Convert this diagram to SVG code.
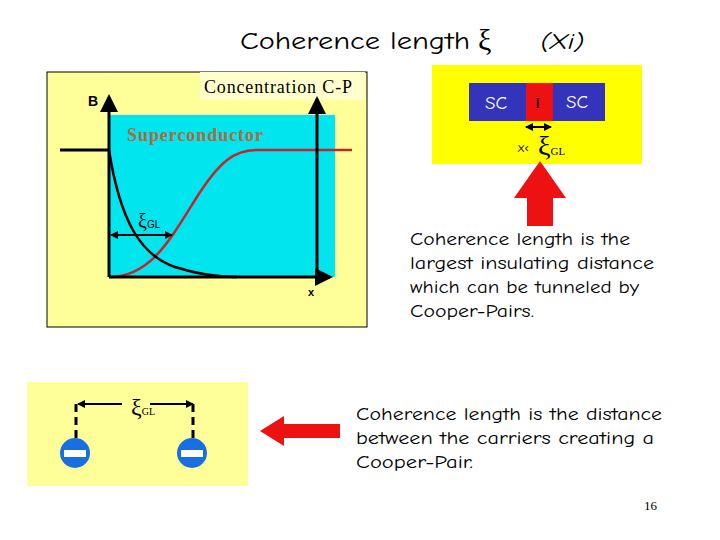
<svg xmlns="http://www.w3.org/2000/svg" width="720" height="540" viewBox="0 0 720 540">
<style>
.cs{font-family:"Comic Neue","DejaVu Sans",sans-serif}
.ser{font-family:"Liberation Serif",serif}
.ax{stroke:#000;stroke-width:3;fill:none}
</style>
<defs>
<marker id="ah" markerWidth="6" markerHeight="6" refX="5" refY="3" orient="auto" markerUnits="strokeWidth"><path d="M0,0L6,3L0,6z" fill="#000"/></marker>
<marker id="sa" markerWidth="8" markerHeight="8" refX="7" refY="4" orient="auto-start-reverse" markerUnits="userSpaceOnUse"><path d="M0,0L8,4L0,8z" fill="#000"/></marker>
</defs>
<rect width="720" height="540" fill="#fff"/>
<text x="240" y="49" class="cs" font-size="25" textLength="230" lengthAdjust="spacingAndGlyphs">Coherence length</text>
<text x="478" y="50" class="ser" font-size="30">ξ</text>
<text x="540" y="49" class="cs" font-size="23" font-style="italic" textLength="44" lengthAdjust="spacingAndGlyphs">(Xi)</text>

<g id="graph">
<rect x="47" y="72" width="320" height="255" fill="#ffff99" stroke="#000" stroke-width="1"/>
<rect x="200" y="72" width="165" height="28" fill="#ffffcc"/>
<text x="204" y="93" class="ser" font-size="18" textLength="148">Concentration C-P</text>
<rect x="109" y="115" width="226" height="162" fill="#00e5ee"/>
<text x="88" y="106" font-family="Liberation Sans,sans-serif" font-weight="bold" font-size="14">B</text>
<text x="127" y="141" class="ser" font-size="18" font-weight="bold" fill="#b06a40" textLength="136">Superconductor</text>
<line x1="60" y1="150" x2="109" y2="150" class="ax"/>
<path d="M109,277 C150,277 170,240 195,200 C220,160 235,150 257,150 L352,150" stroke="#c0272d" stroke-width="2.5" fill="none"/>
<path d="M109,150 C120,220 140,255 175,267 C200,275 220,277 237,277" stroke="#000" stroke-width="2.5" fill="none"/>
<line x1="109" y1="277" x2="109" y2="97" class="ax" marker-end="url(#ah)"/>
<line x1="317" y1="277" x2="317" y2="99" class="ax" marker-end="url(#ah)"/>
<line x1="109" y1="277" x2="330" y2="277" class="ax" marker-end="url(#ah)"/>
<line x1="111" y1="235" x2="172" y2="235" stroke="#000" stroke-width="2" marker-start="url(#sa)" marker-end="url(#sa)"/>
<text x="138" y="228" class="ser" font-size="20">ξ<tspan font-size="10" font-family="Liberation Sans,sans-serif">GL</tspan></text>
<text x="308" y="296" font-family="Liberation Sans,sans-serif" font-weight="bold" font-size="11">x</text>
</g>

<g id="junction">
<rect x="432" y="65" width="210" height="99" fill="#ffff00"/>
<rect x="469" y="83" width="136" height="38" fill="#3333bb"/>
<rect x="526" y="83" width="27" height="38" fill="#ee1111"/>
<text x="485" y="109" class="cs" font-size="19" fill="#fff">SC</text>
<text x="535" y="108" class="ser" font-size="15" fill="#000">I</text>
<text x="566" y="108" class="cs" font-size="19" fill="#fff">SC</text>
<line x1="526" y1="127" x2="551" y2="127" stroke="#000" stroke-width="2" marker-start="url(#sa)" marker-end="url(#sa)"/>
<text x="518" y="152" class="cs" font-size="13">x‹</text>
<text x="538" y="155" class="ser" font-size="28">ξ<tspan font-size="11">GL</tspan></text>
</g>

<g id="pair">
<rect x="27" y="382" width="221" height="104" fill="#ffff99"/>
<line x1="76" y1="404" x2="76" y2="440" stroke="#000" stroke-width="3" stroke-dasharray="8,5"/>
<line x1="193" y1="404" x2="193" y2="440" stroke="#000" stroke-width="3" stroke-dasharray="8,5"/>
<line x1="78" y1="404" x2="122" y2="404" stroke="#000" stroke-width="2" marker-start="url(#sa)"/>
<line x1="150" y1="404" x2="193" y2="404" stroke="#000" stroke-width="2" marker-end="url(#sa)"/>
<text x="131" y="415" class="ser" font-size="24">ξ<tspan font-size="10">GL</tspan></text>
<circle cx="75" cy="453" r="15" fill="#1a6fe0"/>
<rect x="64" y="450" width="22" height="7" fill="#fff"/>
<circle cx="192" cy="453" r="15" fill="#1a6fe0"/>
<rect x="181" y="450" width="22" height="7" fill="#fff"/>
</g>

<g id="connectors">
<path d="M540,161 L566,198 L553,198 L553,226 L527,226 L527,198 L514,198 Z" fill="#ee1111"/>
<path d="M260,431 L284,416 L284,424 L340,424 L340,438 L284,438 L284,446 Z" fill="#ee1111"/>
</g>

<g id="text1" class="cs" font-size="18" lengthAdjust="spacingAndGlyphs">
<text x="410" y="245" textLength="220" lengthAdjust="spacingAndGlyphs">Coherence length is the</text>
<text x="410" y="269" textLength="244" lengthAdjust="spacingAndGlyphs">largest insulating distance</text>
<text x="410" y="293" textLength="229" lengthAdjust="spacingAndGlyphs">which can be tunneled by</text>
<text x="410" y="317" textLength="124" lengthAdjust="spacingAndGlyphs">Cooper-Pairs.</text>
</g>
<g id="text2" class="cs" font-size="18">
<text x="356" y="420" textLength="306" lengthAdjust="spacingAndGlyphs">Coherence length is the distance</text>
<text x="356" y="444" textLength="298" lengthAdjust="spacingAndGlyphs">between the carriers creating a</text>
<text x="356" y="468" textLength="117" lengthAdjust="spacingAndGlyphs">Cooper-Pair.</text>
</g>
<text x="644" y="510" class="ser" font-size="13">16</text>
</svg>
